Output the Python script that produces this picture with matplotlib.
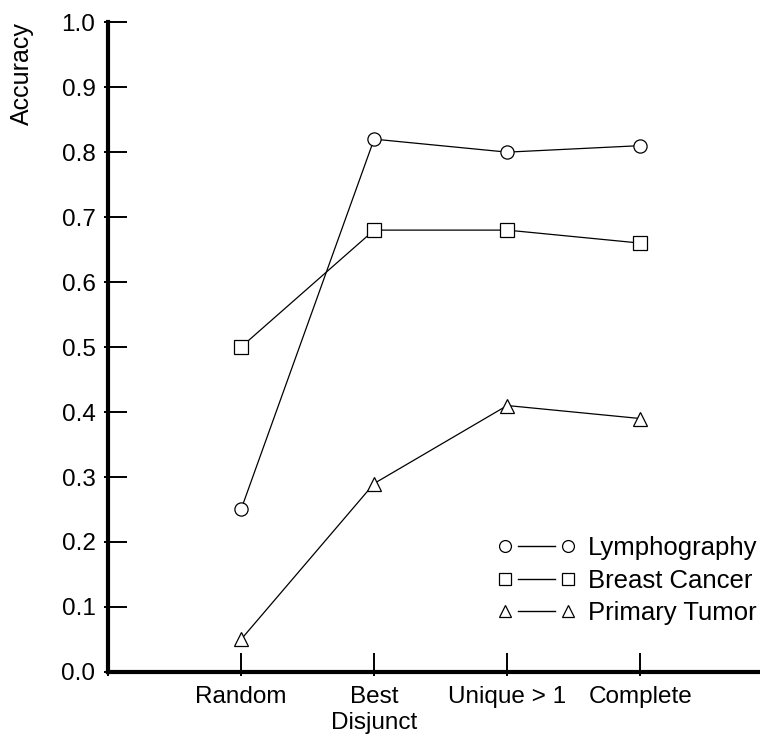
import matplotlib
matplotlib.use("Agg")
import matplotlib.pyplot as plt
from matplotlib.legend_handler import HandlerBase
from matplotlib.lines import Line2D
from matplotlib.ticker import FixedLocator

categories = ["Random", "Best\nDisjunct", "Unique > 1", "Complete"]
lymphography = [0.25, 0.82, 0.80, 0.81]
breast_cancer = [0.50, 0.68, 0.68, 0.66]
primary_tumor = [0.05, 0.29, 0.41, 0.39]
series_names = ["Lymphography", "Breast Cancer", "Primary Tumor"]
markers = ["o", "s", "^"]
y_ticks = [0.0, 0.1, 0.2, 0.3, 0.4, 0.5, 0.6, 0.7, 0.8, 0.9, 1.0]

plt.rcParams['font.family'] = ['Liberation Sans', 'DejaVu Sans']


class GapLineHandler(HandlerBase):
    def create_artists(self, legend, orig_handle, xdescent, ydescent, width, height, fontsize, trans):
        y = (height - ydescent) / 2
        pad = 0.3 * fontsize
        xa = -xdescent + pad
        xb = -xdescent + width - pad
        gap = 0.2 * (xb - xa)
        line = Line2D([xa + gap, xb - gap], [y, y], color="black", linewidth=1.0)
        mk = Line2D([xa, xb], [y, y], linestyle="none", marker=orig_handle.get_marker(),
                    markersize=orig_handle.get_markersize() * legend.markerscale,
                    markerfacecolor="white", markeredgecolor="black",
                    markeredgewidth=orig_handle.get_markeredgewidth())
        line.set_transform(trans)
        mk.set_transform(trans)
        return [line, mk]


fig = plt.figure(figsize=(7.6, 7.4), dpi=100)
ax = fig.add_axes([0.1421, 0.092, 0.8579, 0.878])

x = list(range(1, len(categories) + 1))
for vals, name, m in zip([lymphography, breast_cancer, primary_tumor], series_names, markers):
    ax.plot(x, vals, color="black", linewidth=0.9, marker=m, markersize=9.5,
            markerfacecolor="white", markeredgecolor="black", markeredgewidth=0.9,
            label=name, clip_on=False)

ax.set_xlim(0, 4.9)
ax.set_ylim(0.0, 1.0)
ax.set_xticks(x)
ax.set_xticklabels(categories, fontsize=17.5, linespacing=1.25)
ax.set_yticks(y_ticks)
ax.set_yticklabels([f"{v:.1f}" for v in y_ticks], fontsize=17.5)
ax.xaxis.set_minor_locator(FixedLocator([0] + x))
ax.yaxis.set_minor_locator(FixedLocator(y_ticks))
ax.xaxis.remove_overlapping_locs = False
ax.yaxis.remove_overlapping_locs = False
ax.tick_params(axis="both", which="major", direction="in", length=14, width=1.4, colors="black")
ax.tick_params(axis="both", which="minor", direction="out", length=3, width=1.4, colors="black")
ax.tick_params(axis="y", which="major", pad=9)
ax.tick_params(axis="x", which="major", pad=10)

for s in ["top", "right"]:
    ax.spines[s].set_visible(False)
ax.spines["left"].set_linewidth(3)
ax.spines["bottom"].set_linewidth(3)

fig.text(0.029, 0.900, "Accuracy", rotation=90, fontsize=18, ha="center", va="center")

handles, labels = ax.get_legend_handles_labels()
leg = ax.legend(handles, labels, loc="lower right", bbox_to_anchor=(1.016, 0.052), frameon=False,
                numpoints=2, fontsize=18.5, handlelength=3.05, markerscale=0.9, labelspacing=0.33,
                handletextpad=0.48, borderaxespad=0.1,
                handler_map={h: GapLineHandler() for h in handles})

fig.savefig("out.png", dpi=100)
